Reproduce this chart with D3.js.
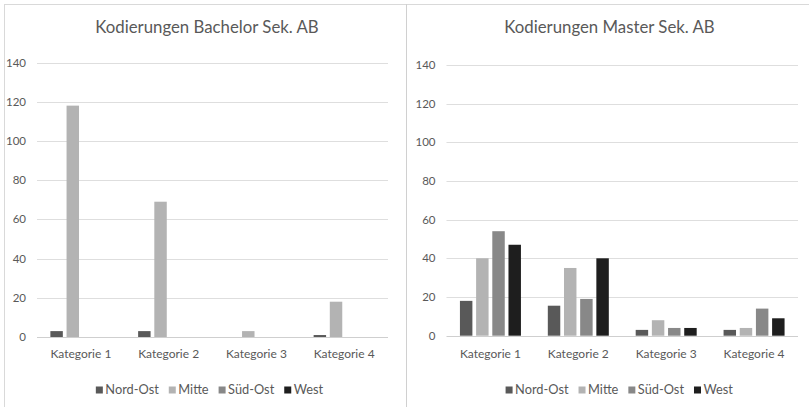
<!DOCTYPE html>
<html>
<head>
<meta charset="utf-8">
<script src="https://cdn.jsdelivr.net/npm/d3@7"></script>
<style>
  html, body { margin: 0; padding: 0; background: #fff; }
  svg { display: block; font-family: Lato, "Open Sans", sans-serif; }
</style>
</head>
<body>
<svg id="chart" width="809" height="407"></svg>
<script>
// Categories, series and tick values
const categories = ["Kategorie 1", "Kategorie 2", "Kategorie 3", "Kategorie 4"];
const seriesNames = ["Nord-Ost", "Mitte", "Süd-Ost", "West"];
const seriesColors = ["#595959", "#b3b3b3", "#888888", "#1e1e1e"];
const yTicks = [0, 20, 40, 60, 80, 100, 120, 140];

// Bachelor counts, one array per region (order follows categories)
const bachelorNordOst = [3, 3, 0, 1];
const bachelorMitte   = [118, 69, 3, 18];
const bachelorSuedOst = [0, 0, 0, 0];
const bachelorWest    = [0, 0, 0, 0];

// Master counts
const masterNordOst = [18, 15.5, 3, 3];
const masterMitte   = [40, 35, 8, 4];
const masterSuedOst = [54, 19, 4, 14];
const masterWest    = [47, 40, 4, 9];

const panels = [
  { title: "Kodierungen Bachelor Sek. AB",
    series: [bachelorNordOst, bachelorMitte, bachelorSuedOst, bachelorWest],
    left: 4, right: 406, plot: { x0: 37, x1: 388, yTop: 62.5, yBase: 337 } },
  { title: "Kodierungen Master Sek. AB",
    series: [masterNordOst, masterMitte, masterSuedOst, masterWest],
    left: 406, right: 809, plot: { x0: 446.5, x1: 798, yTop: 64.8, yBase: 335.7 } }
];

const svg = d3.select("#chart");

// panel frames
svg.append("line").attr("x1", 4.5).attr("x2", 4.5).attr("y1", 4).attr("y2", 407)
  .attr("stroke", "#d9d9d9");
svg.append("line").attr("x1", 4).attr("x2", 809).attr("y1", 4.5).attr("y2", 4.5)
  .attr("stroke", "#d9d9d9");
svg.append("line").attr("x1", 406.5).attr("x2", 406.5).attr("y1", 4).attr("y2", 407)
  .attr("stroke", "#d0d0d0");

panels.forEach(p => {
  const g = svg.append("g");
  const x = d3.scaleBand().domain(categories).range([p.plot.x0, p.plot.x1]).padding(0);
  const groupW = 61;
  const xs = d3.scaleBand().domain(seriesNames).range([0, groupW]).paddingInner(0.23);
  const y = d3.scaleLinear().domain([0, 140]).range([p.plot.yBase, p.plot.yTop]);

  // gridlines
  g.selectAll(".grid").data(yTicks).join("line")
    .attr("x1", p.plot.x0).attr("x2", p.plot.x1)
    .attr("y1", d => Math.round(y(d)) + 0.5).attr("y2", d => Math.round(y(d)) + 0.5)
    .attr("stroke", d => d === 0 ? "#cfcfcf" : "#dedede").attr("stroke-width", 1.2);

  // y tick labels
  g.selectAll(".ylab").data(yTicks).join("text")
    .attr("x", p.plot.x0 - 11).attr("y", d => y(d)).attr("dy", "0.35em")
    .attr("text-anchor", "end").attr("font-size", 11.5).attr("fill", "#595959")
    .text(d => d);

  // bars
  const rows = [];
  categories.forEach((c, ci) => seriesNames.forEach((s, si) => {
    rows.push({ c, s, si, v: p.series[si][ci] });
  }));
  g.selectAll(".bar").data(rows.filter(r => r.v > 0)).join("rect")
    .attr("x", d => x(d.c) + (x.bandwidth() - groupW) / 2 + xs(d.s))
    .attr("width", xs.bandwidth())
    .attr("y", d => y(d.v))
    .attr("height", d => y(0) - y(d.v))
    .attr("fill", d => seriesColors[d.si]);

  // category labels
  g.selectAll(".xlab").data(categories).join("text")
    .attr("x", d => x(d) + x.bandwidth() / 2).attr("y", 358)
    .attr("text-anchor", "middle").attr("font-size", 12).attr("fill", "#595959")
    .text(d => d);

  // title
  g.append("text").attr("x", (p.left + p.right) / 2 + 2).attr("y", 33)
    .attr("text-anchor", "middle").attr("font-size", 16.8).attr("fill", "#595959")
    .text(p.title);

  // legend
  const lg = g.append("g");
  let cx = 0;
  seriesNames.forEach((s, i) => {
    const item = lg.append("g").attr("transform", `translate(${cx},0)`);
    item.append("rect").attr("x", 0).attr("y", -7.5).attr("width", 7).attr("height", 7)
      .attr("fill", seriesColors[i]);
    const t = item.append("text").attr("x", 9.5).attr("y", 0).attr("font-size", 12.8)
      .attr("fill", "#595959").text(s);
    cx += 9.5 + t.node().getComputedTextLength() + 10;
  });
  const legendW = cx - 10;
  const center = (p.plot.x0 + p.plot.x1) / 2 - 3;
  lg.attr("transform", `translate(${center - legendW / 2},394)`);
});
</script>
</body>
</html>
